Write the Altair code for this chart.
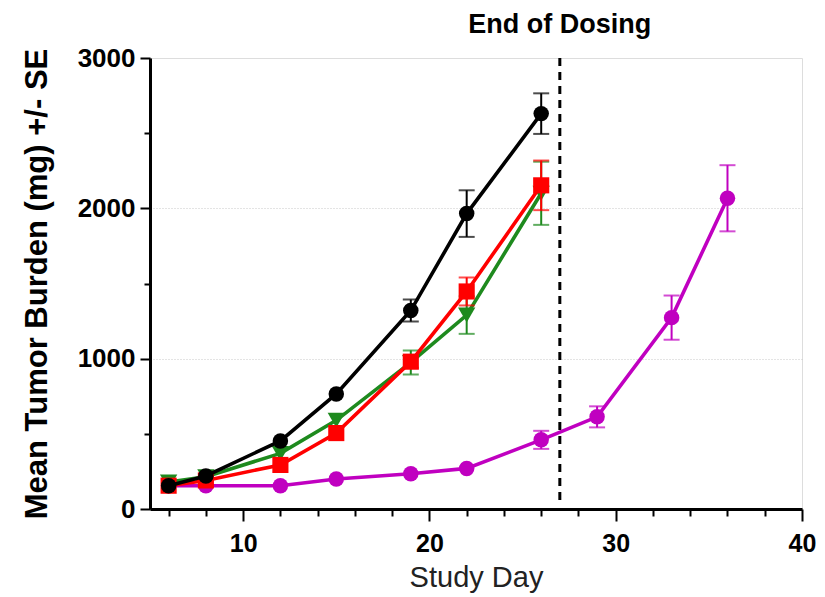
import altair as alt
import pandas as pd

days_main = [6, 8, 12, 15, 19, 22, 26]
days_long = [6, 8, 12, 15, 19, 22, 26, 29, 33, 36]

black_mean = [155, 220, 453, 765, 1320, 1965, 2630]
black_se = [0, 0, 0, 0, 73, 155, 135]
red_mean = [155, 190, 293, 505, 980, 1447, 2153]
red_se = [0, 0, 0, 0, 40, 93, 165]
green_mean = [180, 215, 370, 590, 975, 1290, 2100]
green_se = [0, 0, 0, 0, 80, 125, 210]
mag_mean = [155, 155, 155, 200, 235, 270, 460, 613, 1273, 2067]
mag_se = [0, 0, 0, 0, 0, 0, 60, 70, 147, 220]

series = [
    ("Magenta", days_long, mag_mean, mag_se, "#C000C0", "circle", 240),
    ("Green", days_main, green_mean, green_se, "#1E8A1E", "triangle-down", 300),
    ("Red", days_main, red_mean, red_se, "#FF0000", "square", 260),
    ("Black", days_main, black_mean, black_se, "#000000", "circle", 240),
]

dosing_end = [27]
annot = ["End of Dosing"]

xscale = alt.Scale(domain=[5, 40], nice=False, zero=False)
yscale = alt.Scale(domain=[0, 3000], nice=False)

FONT = "Liberation Sans"

xaxis = alt.Axis(
    title="Study Day", values=list(range(6, 41, 2)),
    labelExpr="datum.value % 10 == 0 ? datum.label : ''",
    labelFont=FONT, labelFontSize=25, labelFontWeight="bold", labelColor="black",
    labelPadding=10, labelFlush=False,
    titleFont=FONT, titleFontSize=29, titleFontWeight="normal", titleColor="#222",
    titlePadding=7,
    domainColor="black", domainWidth=3, tickColor="black", tickWidth=2,
    tickSize={"condition": {"test": "datum.value % 10 == 0", "value": 12}, "value": 7},
    grid=False,
)
yaxis = alt.Axis(
    title="Mean Tumor Burden (mg) +/- SE", values=list(range(0, 3001, 500)),
    labelExpr="datum.value % 1000 == 0 ? datum.label : ''",
    format="d",
    labelFont=FONT, labelFontSize=26, labelFontWeight="bold", labelColor="black",
    labelPadding=5,
    titleFont=FONT, titleFontSize=31, titleFontWeight="bold", titleColor="black",
    titlePadding=24,
    domainColor="black", domainWidth=3, tickColor="black", tickWidth=2,
    tickSize={"condition": {"test": "datum.value % 1000 == 0", "value": 10}, "value": 6},
    grid=True, gridColor="#c8c8c8", gridDash=[1, 2], gridWidth=1,
    gridOpacity={"condition": {"test": "datum.value == 1000 || datum.value == 2000", "value": 1}, "value": 0},
)


def X():
    return alt.X("d:Q", scale=xscale, axis=xaxis)


def Y(field):
    return alt.Y(f"{field}:Q", scale=yscale, axis=yaxis)


layers = []

vline = alt.Chart(pd.DataFrame({"d": dosing_end})).mark_rule(
    color="black", strokeWidth=3, strokeDash=[8, 6]
).encode(x=X(), y=alt.value(0), y2=alt.value(447))

label = alt.Chart(pd.DataFrame({"d": dosing_end, "t": annot})).mark_text(
    font=FONT, fontSize=27, fontWeight="bold", color="black", baseline="middle", align="center"
).encode(x=X(), y=alt.value(-33), text="t:N")

for name, days, mean, se, col, shape, size in series:
    df = pd.DataFrame({"d": days, "m": mean, "se": se})
    df["lo"] = df["m"] - df["se"]
    df["hi"] = df["m"] + df["se"]
    err = df[df["se"] > 0]
    if len(err):
        layers.append(alt.Chart(err).mark_rule(color=col, strokeWidth=2).encode(
            x=X(), y=Y("lo"), y2="hi:Q"))
        for c in ["lo", "hi"]:
            layers.append(alt.Chart(err).mark_tick(color=col, orient="horizontal", size=16, thickness=2).encode(
                x=X(), y=Y(c)))
    layers.append(alt.Chart(df).mark_line(color=col, strokeWidth=3.6).encode(
        x=X(), y=Y("m")))
    layers.append(alt.Chart(df).mark_point(color=col, fill=col, filled=True, opacity=1, shape=shape, size=size).encode(
        x=X(), y=Y("m")))

layers = [layers[0], vline, label] + layers[1:]

chart = alt.layer(*layers).properties(
    width=652, height=451,
    autosize=alt.AutoSizeParams(type="none"),
    padding={"left": 150, "top": 58, "right": 23, "bottom": 88},
).configure_view(strokeWidth=0, stroke="transparent").configure(background="white")

chart.save("out.html", embed_options={"renderer": "svg", "actions": False})
